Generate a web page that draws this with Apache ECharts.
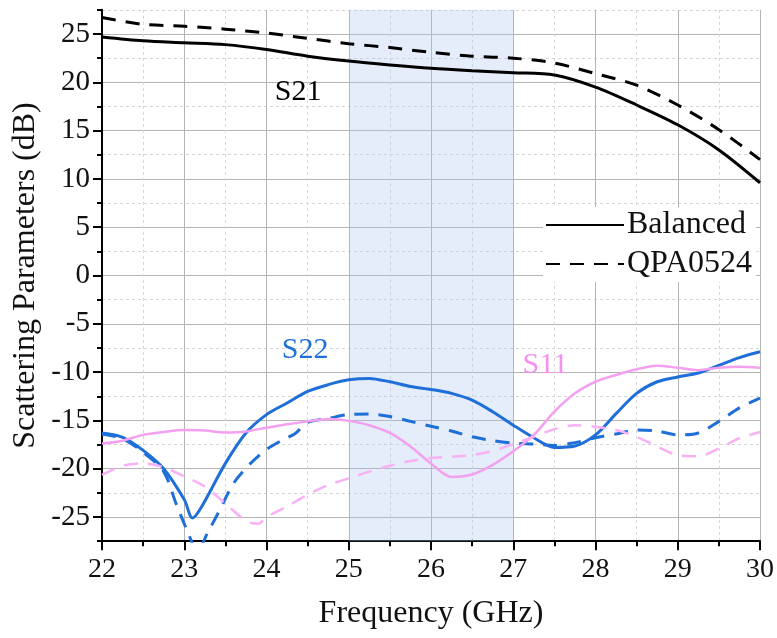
<!DOCTYPE html>
<html>
<head>
<meta charset="utf-8">
<script src="https://cdn.jsdelivr.net/npm/echarts@6/dist/echarts.min.js"></script>
<style>
  html, body { margin: 0; padding: 0; background: #fff; }
  #chart { width: 777px; height: 638px; }
</style>
</head>
<body>
<div id="chart"></div>
<script>
// S21 curves, sampled every 0.5 GHz
const freqS21 = [22, 22.5, 23, 23.5, 24, 24.5, 25, 25.5, 26, 26.5, 27, 27.5, 28, 28.5, 29, 29.5, 30];
const s21Balanced = [24.7, 24.3, 24.1, 23.9, 23.4, 22.7, 22.2, 21.8, 21.45, 21.2, 21.0, 20.75, 19.5, 17.65, 15.6, 13.0, 9.6];
const s21Qpa = [26.7, 26.0, 25.8, 25.5, 25.1, 24.55, 24.0, 23.6, 23.1, 22.7, 22.5, 22.0, 20.9, 19.7, 17.65, 15.1, 12.0];

// S22 balanced
const freqS22Bal = [22, 22.25, 22.5, 22.75, 23, 23.1, 23.2, 23.5, 23.75, 24, 24.25, 24.5, 24.75, 25, 25.25, 25.5, 25.75, 26, 26.25, 26.5, 26.75, 27, 27.25, 27.5, 27.75, 28, 28.25, 28.5, 28.75, 29, 29.25, 29.5, 29.75, 30];
const s22Balanced = [-16.3, -16.75, -18.1, -20.0, -23.2, -25.1, -24.1, -19.45, -16.3, -14.4, -13.2, -12.0, -11.3, -10.8, -10.65, -11.0, -11.5, -11.8, -12.2, -12.9, -14.1, -15.5, -16.8, -17.8, -17.65, -16.5, -14.3, -12.2, -11.0, -10.5, -10.1, -9.3, -8.5, -7.9];

// S22 QPA0524
const freqS22Qpa = [22, 22.25, 22.5, 22.75, 22.9, 23.05, 23.16, 23.28, 23.43, 23.6, 23.8, 24, 24.2, 24.35, 24.5, 24.75, 25, 25.25, 25.5, 25.75, 26, 26.25, 26.5, 26.75, 27, 27.25, 27.5, 27.75, 28, 28.25, 28.5, 28.75, 29, 29.25, 29.5, 29.75, 30];
const s22Qpa = [-16.4, -16.9, -18.3, -20.3, -23.6, -26.7, -28.6, -26.7, -24.3, -21.5, -19.5, -18.0, -17.0, -16.35, -15.2, -14.8, -14.4, -14.35, -14.6, -15.1, -15.6, -16.1, -16.7, -17.1, -17.35, -17.45, -17.6, -17.3, -16.8, -16.4, -16.0, -16.1, -16.5, -16.3, -15.1, -13.7, -12.7];

// S11 balanced
const freqS11Bal = [22, 22.25, 22.5, 22.75, 23, 23.25, 23.5, 23.75, 24, 24.25, 24.5, 24.75, 25, 25.25, 25.5, 25.75, 26, 26.25, 26.5, 26.75, 27, 27.25, 27.5, 27.75, 28, 28.25, 28.5, 28.75, 29, 29.25, 29.5, 29.75, 30];
const s11Balanced = [-17.4, -17.1, -16.5, -16.2, -16.0, -16.05, -16.25, -16.15, -15.75, -15.4, -15.1, -14.85, -15.05, -15.5, -16.3, -17.7, -19.45, -20.85, -20.6, -19.6, -18.2, -16.5, -14.1, -12.2, -11.0, -10.3, -9.7, -9.35, -9.55, -9.8, -9.55, -9.45, -9.55];

// S11 QPA0524
const freqS11Qpa = [22, 22.25, 22.5, 22.75, 23, 23.25, 23.5, 23.75, 23.9, 24, 24.25, 24.5, 24.75, 25, 25.25, 25.5, 25.75, 26, 26.25, 26.5, 26.75, 27, 27.25, 27.5, 27.75, 28, 28.25, 28.5, 28.75, 29, 29.25, 29.5, 29.75, 30];
const s11Qpa = [-20.65, -19.7, -19.45, -19.85, -20.8, -21.85, -23.6, -25.4, -25.7, -25.0, -23.9, -22.7, -21.7, -21.0, -20.3, -19.7, -19.2, -18.9, -18.75, -18.6, -18.15, -17.45, -16.7, -15.9, -15.5, -15.65, -16.0, -16.7, -17.7, -18.6, -18.7, -17.9, -16.85, -16.2];

// shaded operating band and curve labels
const band = [25, 27];
const curveLabels = [
  { name: "S21", coord: [24.385, 19.0] },
  { name: "S22", coord: [24.47, -7.7] },
  { name: "S11", coord: [27.39, -9.3] },
];

const BLACK = "#000000";
const BLUE = "#1f6fd9";
const PINK = "#f4a0f0";
const PINK_DASH = "#f9b0f5";
const FONT = "Liberation Serif";

const zip = (xs, ys) => xs.map((x, i) => [x, ys[i]]);

const chart = echarts.init(document.getElementById("chart"), null, { renderer: "canvas" });

// pixel scale: 9.66 px per dB
const unit = 9.66;
const innerTop = 34;
const outerTop = innerTop - 2.5 * unit;

const markLabel = (item, color) => ({
  symbol: "circle",
  symbolSize: 0,
  silent: true,
  label: { show: true, position: "inside", formatter: "{b}", color, fontFamily: FONT, fontSize: 30 },
  data: [item],
});

const lineSeries = (name, data, color, width, dashed, extra) => Object.assign({
  name,
  type: "line",
  xAxisIndex: 0,
  yAxisIndex: 0,
  data,
  smooth: 0.3,
  symbol: "none",
  showSymbol: false,
  clip: true,
  lineStyle: { color, width, type: dashed ? [14, 10] : "solid" },
  itemStyle: { color },
  z: 3,
}, extra || {});

const option = {
  backgroundColor: "#ffffff",
  animation: false,
  grid: [
    { left: 102, right: 17, top: outerTop, height: 55 * unit, containLabel: false },
    { left: 102, right: 17, top: innerTop, height: 50 * unit, containLabel: false },
  ],
  xAxis: [
    {
      type: "value", gridIndex: 0, min: 22, max: 30, interval: 1,
      name: "Frequency (GHz)", nameLocation: "middle", nameGap: 56,
      nameTextStyle: { fontFamily: FONT, fontSize: 32, color: "#111" },
      axisLine: { show: true, onZero: false, lineStyle: { color: BLACK, width: 2 } },
      axisTick: { show: true, inside: false, length: 9, lineStyle: { color: BLACK, width: 2 } },
      minorTick: { show: true, splitNumber: 2, length: 5, lineStyle: { color: BLACK, width: 2 } },
      axisLabel: { fontFamily: FONT, fontSize: 28, color: "#111", margin: 14 },
      splitLine: { show: true, lineStyle: { color: "#b4b4b4", width: 1 } },
      minorSplitLine: { show: true, lineStyle: { color: "#d6d6d6", width: 1, type: [3, 3] } },
    },
    { type: "value", gridIndex: 1, min: 22, max: 30, show: false },
  ],
  yAxis: [
    {
      type: "value", gridIndex: 0, min: -27.5, max: 27.5, interval: 2.5,
      name: "Scattering Parameters (dB)", nameLocation: "middle", nameGap: 60, nameRotate: 90,
      nameTextStyle: { fontFamily: FONT, fontSize: 32, color: "#111" },
      axisLine: { show: true, onZero: false, lineStyle: { color: BLACK, width: 2 } },
      axisTick: { show: true, inside: false, length: 5, lineStyle: { color: BLACK, width: 2 } },
      axisLabel: { show: false },
      splitLine: { show: true, lineStyle: { color: "#d6d6d6", width: 1, type: [3, 3] } },
    },
    {
      type: "value", gridIndex: 1, min: -25, max: 25, interval: 5,
      axisLine: { show: false },
      axisTick: { show: true, inside: false, length: 9, lineStyle: { color: BLACK, width: 2 } },
      axisLabel: { fontFamily: FONT, fontSize: 29, color: "#111", margin: 12 },
      splitLine: { show: true, lineStyle: { color: "#b4b4b4", width: 1 } },
    },
  ],
  legend: {
    orient: "vertical",
    left: 543,
    top: 207,
    data: ["Balanced", "QPA0524"],
    itemWidth: 78,
    itemHeight: 20,
    itemGap: 7,
    padding: [2, 4, 2, 2],
    backgroundColor: "#ffffff",
    itemStyle: { opacity: 0, borderWidth: 0 },
    textStyle: { fontFamily: FONT, fontSize: 32, color: "#111", padding: [0, 0, 0, -2] },
    selectedMode: false,
  },
  series: [
    lineSeries("Balanced", zip(freqS21, s21Balanced), BLACK, 3, false, {
      markArea: {
        silent: true,
        itemStyle: { color: "rgba(180,200,240,0.33)" },
        data: [[{ xAxis: band[0] }, { xAxis: band[1] }]],
      },
      markPoint: markLabel(curveLabels[0], BLACK),
    }),
    lineSeries("QPA0524", zip(freqS21, s21Qpa), BLACK, 3, true),
    lineSeries("Balanced", zip(freqS22Bal, s22Balanced), BLUE, 3, false, {
      markPoint: markLabel(curveLabels[1], BLUE),
    }),
    lineSeries("QPA0524", zip(freqS22Qpa, s22Qpa), BLUE, 3, true),
    lineSeries("Balanced", zip(freqS11Bal, s11Balanced), PINK, 2.5, false, {
      markPoint: markLabel(curveLabels[2], "#f58ff0"),
    }),
    lineSeries("QPA0524", zip(freqS11Qpa, s11Qpa), PINK_DASH, 2.5, true),
  ],
};

chart.setOption(option);
</script>
</body>
</html>
